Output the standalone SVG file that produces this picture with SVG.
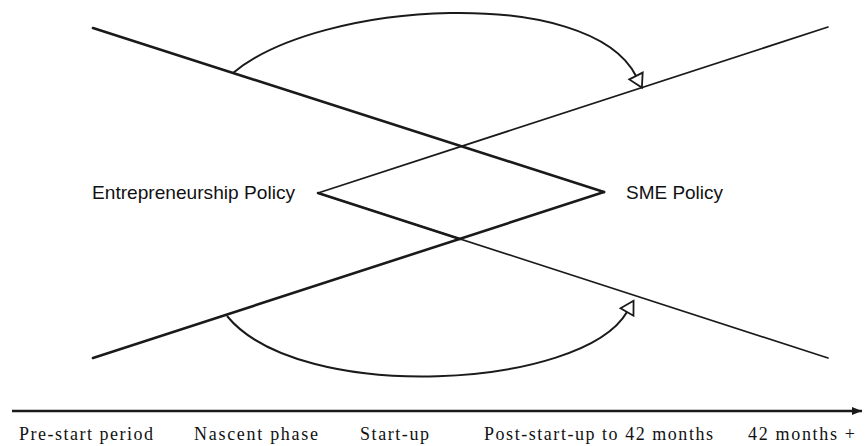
<svg xmlns="http://www.w3.org/2000/svg" width="866" height="446" viewBox="0 0 866 446">
  <style>
    .thick { stroke: #1a1a1a; stroke-width: 2.6; fill: none; stroke-linecap: round; }
    .thin { stroke: #1a1a1a; stroke-width: 1.7; fill: none; stroke-linecap: round; }
    .arc { stroke: #1a1a1a; stroke-width: 2; fill: none; }
    .label { font-family: "Liberation Sans", Arial, sans-serif; font-size: 19px; fill: #111; }
    .phase { font-family: "Liberation Serif", "Times New Roman", serif; font-size: 18px; fill: #111; }
  </style>
  <defs>
    <marker id="openTri" markerUnits="userSpaceOnUse" markerWidth="20" markerHeight="20" refX="0" refY="0" viewBox="-2 -10 18 20" orient="auto">
      <path d="M0,-7.5 L13,0 L0,7.5 Z" fill="#fff" stroke="#1a1a1a" stroke-width="1.8"/>
    </marker>
    <marker id="axisHead" markerUnits="userSpaceOnUse" markerWidth="12" markerHeight="12" refX="6" refY="0" viewBox="-6 -6 12 12" orient="auto">
      <path d="M-4,-4 L6,0 L-4,4 Z" fill="#1a1a1a"/>
    </marker>
  </defs>

  <!-- policy lines forming the double cross -->
  <g id="connectors">
    <line class="thick" x1="93" y1="28" x2="604" y2="192"/>
    <line class="thick" x1="93" y1="358" x2="604" y2="192"/>
    <line class="thin" x1="318" y1="193" x2="828" y2="27"/>
    <line class="thin" x1="318" y1="193" x2="828" y2="358"/>
    <line class="thick" x1="318" y1="193" x2="460" y2="239"/>

    <!-- transition arcs -->
    <path class="arc" d="M233,73 C320,0 590,-15 636,76" marker-end="url(#openTri)"/>
    <path class="arc" d="M227,316 C300,405 582,389 627,312" marker-end="url(#openTri)"/>

    <!-- time axis -->
    <line x1="12" y1="411" x2="862" y2="411" stroke="#1a1a1a" stroke-width="2.6" marker-end="url(#axisHead)"/>
  </g>

  <g id="entrepreneurship-policy">
    <text class="label" x="92" y="199" textLength="203" lengthAdjust="spacingAndGlyphs">Entrepreneurship Policy</text>
  </g>
  <g id="sme-policy">
    <text class="label" x="626" y="199" textLength="97" lengthAdjust="spacingAndGlyphs">SME Policy</text>
  </g>

  <g id="phases">
    <text class="phase" x="19" y="440" textLength="134" lengthAdjust="spacing">Pre-start period</text>
    <text class="phase" x="194" y="440" textLength="124" lengthAdjust="spacing">Nascent phase</text>
    <text class="phase" x="360" y="440" textLength="69" lengthAdjust="spacing">Start-up</text>
    <text class="phase" x="484" y="440" textLength="229" lengthAdjust="spacing">Post-start-up to 42 months</text>
    <text class="phase" x="748" y="440" textLength="107" lengthAdjust="spacing">42 months +</text>
  </g>
</svg>
